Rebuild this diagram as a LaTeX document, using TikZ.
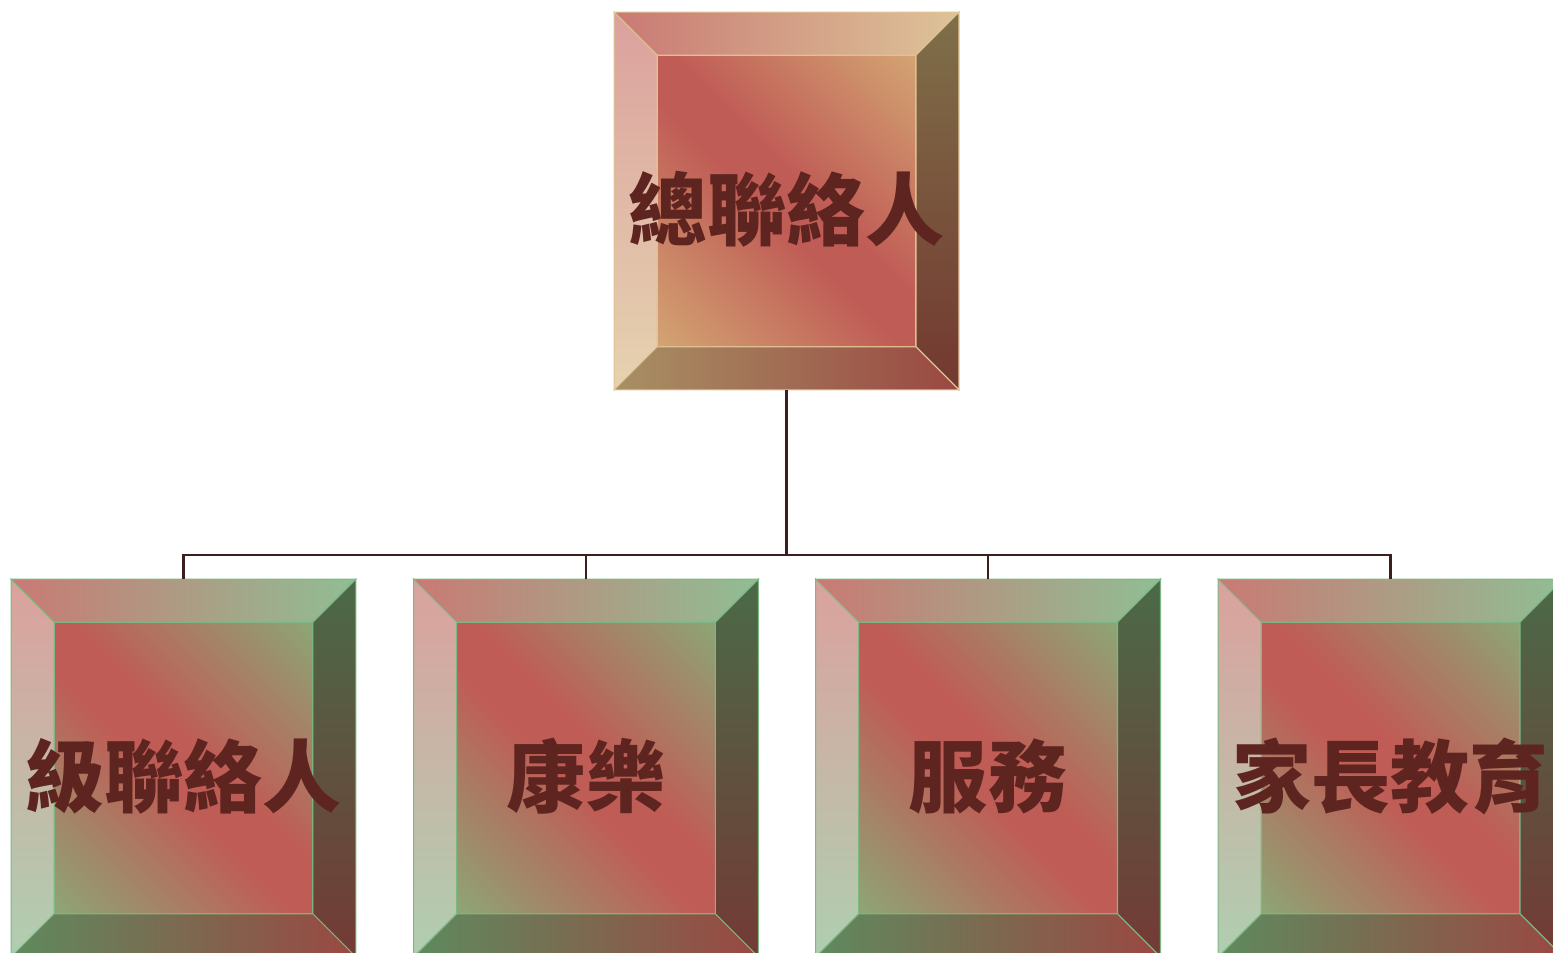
\documentclass[tikz,border=0pt]{standalone}
\usepackage{fontspec}
\newfontfamily\cjk{Noto Sans CJK TC}
\usetikzlibrary{calc}
% gold palette (top box)
\definecolor{t-inend}{HTML}{D4A874}
\definecolor{t-inmid}{HTML}{C05C56}
\definecolor{t-topl}{HTML}{C97A74}
\definecolor{t-topr}{HTML}{DDC398}
\definecolor{t-lt}{HTML}{DBA19D}
\definecolor{t-lb}{HTML}{E6D2B0}
\definecolor{t-rt}{HTML}{7F7049}
\definecolor{t-rb}{HTML}{733830}
\definecolor{t-bl}{HTML}{A89064}
\definecolor{t-br}{HTML}{9A4842}
\definecolor{t-edge}{HTML}{E2C393}
% green palette (bottom boxes)
\definecolor{g-inend}{HTML}{8AAA76}
\definecolor{g-inmid}{HTML}{C05C56}
\definecolor{g-topl}{HTML}{C97A74}
\definecolor{g-topr}{HTML}{90BE94}
\definecolor{g-lt}{HTML}{DBA19D}
\definecolor{g-lb}{HTML}{B0CEB0}
\definecolor{g-rt}{HTML}{4A6A48}
\definecolor{g-rb}{HTML}{743A35}
\definecolor{g-bl}{HTML}{5E8A5E}
\definecolor{g-br}{HTML}{9A4842}
\definecolor{g-edge}{HTML}{7DB883}
\definecolor{txtc}{HTML}{5E2420}
\definecolor{linec}{HTML}{3B1E1E}
\pgfdeclarehorizontalshading{t-inner}{100bp}{color(0bp)=(t-inend); color(13bp)=(t-inend); color(46bp)=(t-inmid); color(54bp)=(t-inmid); color(87bp)=(t-inend); color(100bp)=(t-inend)}
\pgfdeclarehorizontalshading{g-inner}{100bp}{color(0bp)=(g-inend); color(13bp)=(g-inend); color(46bp)=(g-inmid); color(54bp)=(g-inmid); color(87bp)=(g-inend); color(100bp)=(g-inend)}
\tikzset{
  boxnode/.style={minimum width=6.9cm, minimum height=7.56cm, inner sep=0pt, outer sep=0pt},
  lbl/.style={font=\cjk\bfseries\fontsize{45}{45}\selectfont, text=txtc, inner sep=0pt},
  conn/.style={draw=linec, line width=1.4pt},
  face/.style={line width=0.6pt, line join=miter}
}
\newcommand\bevbox[5]{% name, cx, cy, palette, text
  \node[boxnode] (#1) at (#2,#3) {};
  \coordinate (#1A) at ($(#1.north west)+(43,43)$);
  \coordinate (#1B) at ($(#1.north east)+(-43,43)$);
  \coordinate (#1C) at ($(#1.south east)+(-43,-43)$);
  \coordinate (#1D) at ($(#1.south west)+(43,-43)$);
  \shade[face, draw=#4-edge, shading=#4-inner, shading angle=45]
    (#1A) -- (#1B) -- (#1C) -- (#1D) -- cycle;
  \shade[face, draw=#4-edge, left color=#4-topl, right color=#4-topr]
    (#1.north west) -- (#1.north east) -- (#1B) -- (#1A) -- cycle;
  \shade[face, draw=#4-edge, top color=#4-lt, bottom color=#4-lb]
    (#1.north west) -- (#1A) -- (#1D) -- (#1.south west) -- cycle;
  \shade[face, draw=#4-edge, top color=#4-rt, bottom color=#4-rb]
    (#1.north east) -- (#1.south east) -- (#1C) -- (#1B) -- cycle;
  \shade[face, draw=#4-edge, left color=#4-bl, right color=#4-br]
    (#1.south west) -- (#1D) -- (#1C) -- (#1.south east) -- cycle;
  \node[lbl] (#1T) at ($(#1.center)+(0,8)$) {#5};
}
\begin{document}
\begin{tikzpicture}[x=0.02cm, y=-0.02cm]
  \useasboundingbox (0,0) rectangle (1553,953);
  \clip (0,0) rectangle (1553,953);
  \bevbox{top}{786.5}{201}{t}{總聯絡人}
  \bevbox{b1}{183.5}{768}{g}{級聯絡人}
  \bevbox{b2}{586}{768}{g}{康樂}
  \bevbox{b3}{988}{768}{g}{服務}
  \bevbox{b4}{1390.5}{768}{g}{家長教育}
  \coordinate (j) at (786.5,555);
  \draw[conn] (top.south) -- (j);
  \draw[conn] (b1.north) |- (j);
  \draw[conn] (b2.north) |- (j);
  \draw[conn] (b3.north) |- (j);
  \draw[conn] (b4.north) |- (j);
\end{tikzpicture}
\end{document}
